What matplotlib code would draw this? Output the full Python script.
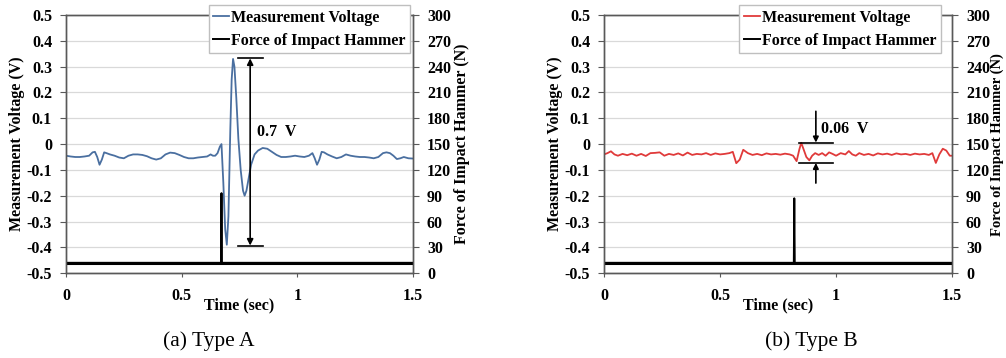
import matplotlib
matplotlib.use("Agg")
import matplotlib.pyplot as plt

# ---------------- data ----------------
time_a = [0.0, 0.02, 0.04, 0.06, 0.08, 0.10, 0.115, 0.125, 0.135, 0.145, 0.155, 0.165, 0.175, 0.19,
          0.21, 0.23, 0.25, 0.27, 0.29, 0.31, 0.33, 0.35, 0.37, 0.39, 0.41, 0.43, 0.45, 0.47, 0.49,
          0.51, 0.53, 0.55, 0.57, 0.59, 0.61, 0.625, 0.635, 0.645, 0.655, 0.665, 0.672, 0.68, 0.688,
          0.695, 0.702, 0.71, 0.716, 0.722, 0.728, 0.736, 0.745, 0.755, 0.765, 0.772, 0.78, 0.79,
          0.80, 0.815, 0.83, 0.85, 0.87, 0.89, 0.91, 0.93, 0.95, 0.97, 0.99, 1.01, 1.03, 1.05, 1.065,
          1.075, 1.085, 1.095, 1.105, 1.115, 1.13, 1.15, 1.17, 1.19, 1.21, 1.23, 1.25, 1.27, 1.29,
          1.31, 1.33, 1.35, 1.37, 1.385, 1.40, 1.415, 1.43, 1.445, 1.46, 1.48, 1.50]
volt_a = [-0.045, -0.048, -0.05, -0.05, -0.048, -0.045, -0.032, -0.03, -0.05, -0.08, -0.06, -0.032,
          -0.035, -0.04, -0.045, -0.052, -0.055, -0.045, -0.04, -0.04, -0.042, -0.047, -0.055, -0.06,
          -0.055, -0.04, -0.033, -0.035, -0.042, -0.05, -0.055, -0.055, -0.052, -0.05, -0.048, -0.04,
          -0.045, -0.045, -0.035, -0.01, 0.0, -0.15, -0.33, -0.39, -0.28, 0.05, 0.25, 0.33, 0.30,
          0.18, 0.02, -0.10, -0.18, -0.20, -0.18, -0.13, -0.08, -0.04, -0.025, -0.015, -0.018, -0.03,
          -0.042, -0.05, -0.05, -0.048, -0.045, -0.048, -0.05, -0.045, -0.035, -0.055, -0.08, -0.06,
          -0.03, -0.032, -0.04, -0.048, -0.055, -0.05, -0.04, -0.045, -0.048, -0.05, -0.05, -0.052,
          -0.055, -0.05, -0.035, -0.032, -0.035, -0.045, -0.058, -0.055, -0.05, -0.055, -0.056]
force_time_a = [0.0, 0.670, 0.672, 0.674, 1.5]
force_a = [12, 12, 93, 12, 12]

time_b = [0.0, 0.015, 0.03, 0.045, 0.06, 0.08, 0.10, 0.12, 0.14, 0.16, 0.18, 0.20, 0.22, 0.24, 0.26,
          0.28, 0.30, 0.32, 0.34, 0.36, 0.38, 0.40, 0.42, 0.44, 0.46, 0.48, 0.50, 0.52, 0.54, 0.555,
          0.57, 0.585, 0.60, 0.62, 0.64, 0.66, 0.68, 0.70, 0.72, 0.74, 0.76, 0.78, 0.80, 0.815, 0.83,
          0.842, 0.85, 0.86, 0.872, 0.885, 0.897, 0.91, 0.925, 0.94, 0.955, 0.97, 0.985, 1.0, 1.02,
          1.04, 1.055, 1.07, 1.085, 1.10, 1.12, 1.14, 1.16, 1.18, 1.20, 1.22, 1.24, 1.26, 1.28, 1.30,
          1.32, 1.34, 1.36, 1.38, 1.40, 1.415, 1.43, 1.445, 1.46, 1.475, 1.49, 1.50]
volt_b = [-0.04, -0.035, -0.028, -0.04, -0.045, -0.038, -0.043, -0.037, -0.045, -0.038, -0.046,
          -0.035, -0.034, -0.032, -0.045, -0.038, -0.042, -0.036, -0.044, -0.033, -0.042, -0.038,
          -0.04, -0.035, -0.042, -0.036, -0.04, -0.038, -0.035, -0.03, -0.074, -0.06, -0.022, -0.035,
          -0.042, -0.038, -0.043, -0.036, -0.04, -0.038, -0.041, -0.037, -0.04, -0.045, -0.066,
          -0.02, 0.005, -0.02, -0.05, -0.063, -0.045, -0.035, -0.042, -0.035, -0.045, -0.032, -0.038,
          -0.045, -0.035, -0.04, -0.027, -0.04, -0.045, -0.035, -0.042, -0.038, -0.044, -0.036, -0.04,
          -0.037, -0.042, -0.036, -0.04, -0.038, -0.042, -0.037, -0.04, -0.038, -0.042, -0.035,
          -0.073, -0.04, -0.018, -0.025, -0.045, -0.045]
force_time_b = [0.0, 0.818, 0.820, 0.822, 1.5]
force_b = [12, 12, 87, 12, 12]

volt_ticks = [-0.5, -0.4, -0.3, -0.2, -0.1, 0, 0.1, 0.2, 0.3, 0.4, 0.5]
volt_labels = ["-0.5", "-0.4", "-0.3", "-0.2", "-0.1", "0", "0.1", "0.2", "0.3", "0.4", "0.5"]
force_ticks = [0, 30, 60, 90, 120, 150, 180, 210, 240, 270, 300]
time_ticks = [0, 0.5, 1, 1.5]
time_labels = ["0", "0.5", "1", "1.5"]

assert len(time_a) == len(volt_a) and len(time_b) == len(volt_b)

SERIF = ["Liberation Serif", "DejaVu Serif"]
plt.rcParams["font.family"] = SERIF
plt.rcParams["font.weight"] = "bold"

fig = plt.figure(figsize=(10.06, 3.58), dpi=100)

SPINE = "#595959"
FS = 11.5


def make_panel(rect, t, v, ft, f, color, legend_right, left_lab_x, right_lab_x, right_fs):
    ax = fig.add_axes(rect)
    ax.set_xlim(0, 1.5)
    ax.set_ylim(-0.5, 0.5)
    ax.set_yticks(volt_ticks)
    ax.set_yticklabels(volt_labels, fontsize=FS, fontweight="bold")
    ax.set_xticks(time_ticks)
    ax.set_xticklabels(time_labels, fontsize=FS, fontweight="bold")
    ax.grid(axis="y", color="#d9d9d9", lw=0.9)
    ax.set_axisbelow(True)
    ax.tick_params(axis="y", direction="out", length=4, color=SPINE, pad=6)
    ax.tick_params(axis="x", direction="out", length=3, color=SPINE, pad=8)
    for s in ax.spines.values():
        s.set_color(SPINE)
        s.set_linewidth(1.0)
    ax.set_ylabel("Measurement Voltage (V)", fontsize=FS, fontweight="bold")
    ax.yaxis.set_label_coords(left_lab_x, 0.5)
    ax.set_xlabel("Time (sec)", fontsize=FS, fontweight="bold", labelpad=-5)
    l1, = ax.plot(t, v, color=color, lw=1.3, label="Measurement Voltage")

    ax2 = ax.twinx()
    ax2.set_ylim(0, 300)
    ax2.set_yticks(force_ticks)
    ax2.set_yticklabels([str(x) for x in force_ticks], fontsize=FS, fontweight="bold")
    ax2.tick_params(axis="y", direction="out", length=4, color=SPINE, pad=6)
    for s in ax2.spines.values():
        s.set_color(SPINE)
        s.set_linewidth(1.0)
    ax2.set_ylabel("Force of Impact Hammer (N)", fontsize=right_fs, fontweight="bold")
    ax2.yaxis.set_label_coords(right_lab_x, 0.5)
    l2, = ax2.plot(ft, f, color="black", lw=1.4, label="Force of Impact Hammer")
    ax2.plot([0, 1.5], [12, 12], color="black", lw=2.2)

    leg = ax2.legend(handles=[l1, l2], loc="upper right", bbox_to_anchor=(legend_right, 1.04),
                     borderaxespad=0, fancybox=False, framealpha=1, edgecolor="#bfbfbf",
                     handlelength=1.0, handletextpad=0.1, borderpad=0.3, labelspacing=0.45,
                     prop={"family": SERIF, "weight": "bold", "size": FS})
    leg.get_frame().set_linewidth(1.0)
    return ax


# panel A
axA = make_panel([0.0656, 0.237, 0.345, 0.721], time_a, volt_a, force_time_a, force_a,
                 "#4a6fa0", 0.992, -0.118, 1.119, FS)
# 0.7 V annotation
axA.annotate("", xy=(0.796, 0.332), xytext=(0.796, -0.393),
             arrowprops=dict(arrowstyle="<|-|>", color="black", lw=1.2, mutation_scale=9,
                             shrinkA=0, shrinkB=0))
axA.plot([0.743, 0.851], [0.332, 0.332], color="black", lw=1.2)
axA.plot([0.743, 0.851], [-0.393, -0.393], color="black", lw=1.2)
axA.text(0.827, 0.047, "0.7  V", fontsize=FS, fontweight="bold", ha="left", va="center")

# panel B
axB = make_panel([0.6004, 0.237, 0.346, 0.721], time_b, volt_b, force_time_b, force_b,
                 "#e03a3a", 0.968, -0.118, 1.111, 10.5)
axB.annotate("", xy=(0.913, 0.006), xytext=(0.913, 0.127),
             arrowprops=dict(arrowstyle="-|>", color="black", lw=1.2, mutation_scale=8,
                             shrinkA=0, shrinkB=0))
axB.annotate("", xy=(0.913, -0.073), xytext=(0.913, -0.151),
             arrowprops=dict(arrowstyle="-|>", color="black", lw=1.2, mutation_scale=8,
                             shrinkA=0, shrinkB=0))
axB.plot([0.842, 0.985], [0.006, 0.006], color="black", lw=1.2)
axB.plot([0.842, 0.985], [-0.073, -0.073], color="black", lw=1.2)
axB.text(0.935, 0.06, "0.06  V", fontsize=FS, fontweight="bold", ha="left", va="center")

# captions
fig.text(209 / 1006, 1 - 341 / 358, "(a) Type A", fontsize=15.5, fontweight="normal",
         ha="center", va="center")
fig.text(811 / 1006, 1 - 341 / 358, "(b) Type B", fontsize=15.5, fontweight="normal",
         ha="center", va="center")

fig.savefig("out.png", dpi=100)
